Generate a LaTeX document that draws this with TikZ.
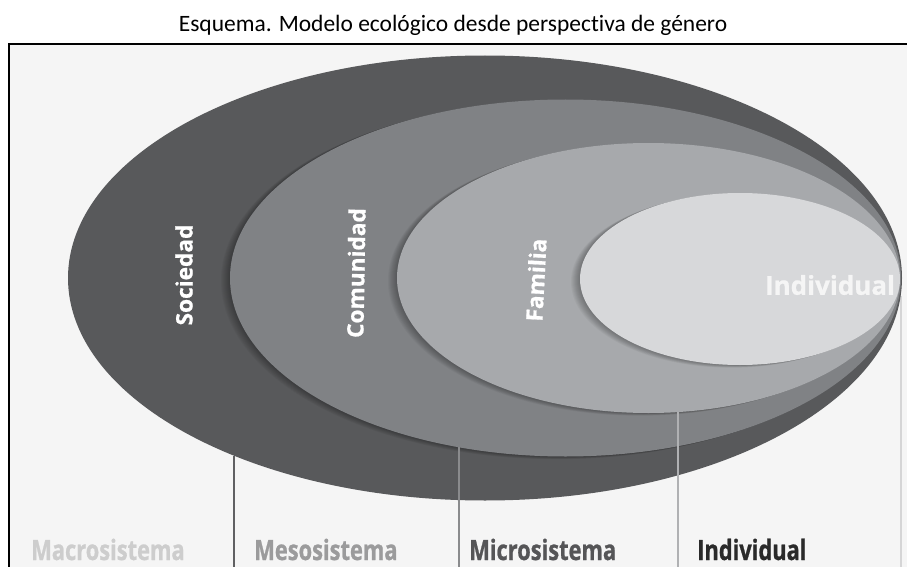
\documentclass[tikz,border=0pt]{standalone}
\usepackage{fontspec}
\setmainfont{Carlito}[Ligatures={NoCommon}]
\newfontfamily\lblfont{Open Sans}[BoldFeatures={FakeBold=0.8}]
\newfontfamily\condfont{Open Sans}[FakeStretch=0.78,BoldFeatures={FakeBold=0.8}]
\definecolor{bggray}{HTML}{F5F5F5}
\definecolor{soc}{HTML}{58595B}
\definecolor{com}{HTML}{808285}
\definecolor{fam}{HTML}{A7A9AC}
\definecolor{ind}{HTML}{D7D8DA}
\definecolor{lineA}{HTML}{606062}
\definecolor{lineB}{HTML}{8A8B8D}
\definecolor{lineC}{HTML}{B0B1B3}
\definecolor{lineD}{HTML}{D5D5D6}
\definecolor{txtA}{HTML}{CDCDCD}
\definecolor{txtB}{HTML}{9B9B9C}
\definecolor{txtC}{HTML}{555557}
\definecolor{txtD}{HTML}{2A2A2A}
\tikzset{
  ringlabel/.style={font=\lblfont\bfseries\fontsize{17}{20}\selectfont, text=white, inner sep=0pt},
  levellabel/.style={font=\condfont\bfseries\fontsize{21}{25}\selectfont, anchor=base west, inner sep=0pt},
  levelline/.style={line width=1.8pt},
}
\begin{document}
\begin{tikzpicture}[x=0.75pt,y=-0.75pt]
\useasboundingbox (0,0) rectangle (907,567);
\fill[white] (0,0) rectangle (907,567);
\fill[bggray] (9,44) rectangle (907,567);
\draw[black,line width=1.5pt] (9,568) -- (9,44) -- (908,44);

% title
\node[anchor=base, inner sep=0pt, font=\fontsize{17.6}{21}\selectfont] (title) at (453,32)
  {Esquema. Modelo ecológico desde perspectiva de género};

% coordinates for the level lines
\coordinate (l1top) at (234,456);
\coordinate (l1bot) at (234,568);
\coordinate (l2top) at (459,447);
\coordinate (l2bot) at (459,568);
\coordinate (l3top) at (678,412);
\coordinate (l3bot) at (678,568);
\coordinate (l4top) at (901,296);
\coordinate (l4bot) at (901,568);

% rightmost line, behind the rings
\draw[levelline, lineD] (l4top) -- (l4bot);

% rings
\fill[soc] (485,278) ellipse [x radius=312.75pt, y radius=166.875pt];
\foreach \k in {1,...,9}{
  \fill[black, opacity=0.035] (565.5-\k,278+0.3*\k) ellipse [x radius=251.625pt, y radius=133.875pt];
}
\fill[com] (565.5,278) ellipse [x radius=251.625pt, y radius=133.875pt];
\foreach \k in {1,...,9}{
  \fill[black, opacity=0.035] (648.5-\k,278+0.3*\k) ellipse [x radius=188.625pt, y radius=101.25pt];
}
\fill[fam] (648.5,278) ellipse [x radius=188.625pt, y radius=101.25pt];
\foreach \k in {1,...,9}{
  \fill[black, opacity=0.035] (740-\k,279+0.3*\k) ellipse [x radius=120pt, y radius=64.5pt];
}
\fill[ind] (740,279) ellipse [x radius=120pt, y radius=64.5pt];

% level lines
\draw[levelline, lineA] (l1top) -- (l1bot);
\draw[levelline, lineB] (l2top) -- (l2bot);
\draw[levelline, lineC] (l3top) -- (l3bot);

% ring labels
\node[ringlabel, rotate=90] (sociedad) at (184,275) {Sociedad};
\node[ringlabel, rotate=89] (comunidad) at (356,273) {Comunidad};
\node[ringlabel, rotate=87] (familia) at (536,280) {Familia};
\node[ringlabel, font=\lblfont\bfseries\fontsize{19.5}{23}\selectfont, text=bggray] (individual) at (830,285) {Individual};

% level labels
\node[levellabel, text=txtA] (macro) at (31,560) {Macrosistema};
\node[levellabel, text=txtB] (meso) at (254,560) {Mesosistema};
\node[levellabel, text=txtC] (micro) at (469,560) {Microsistema};
\node[levellabel, text=txtD] (indiv) at (697,560) {Individual};
\end{tikzpicture}
\end{document}
